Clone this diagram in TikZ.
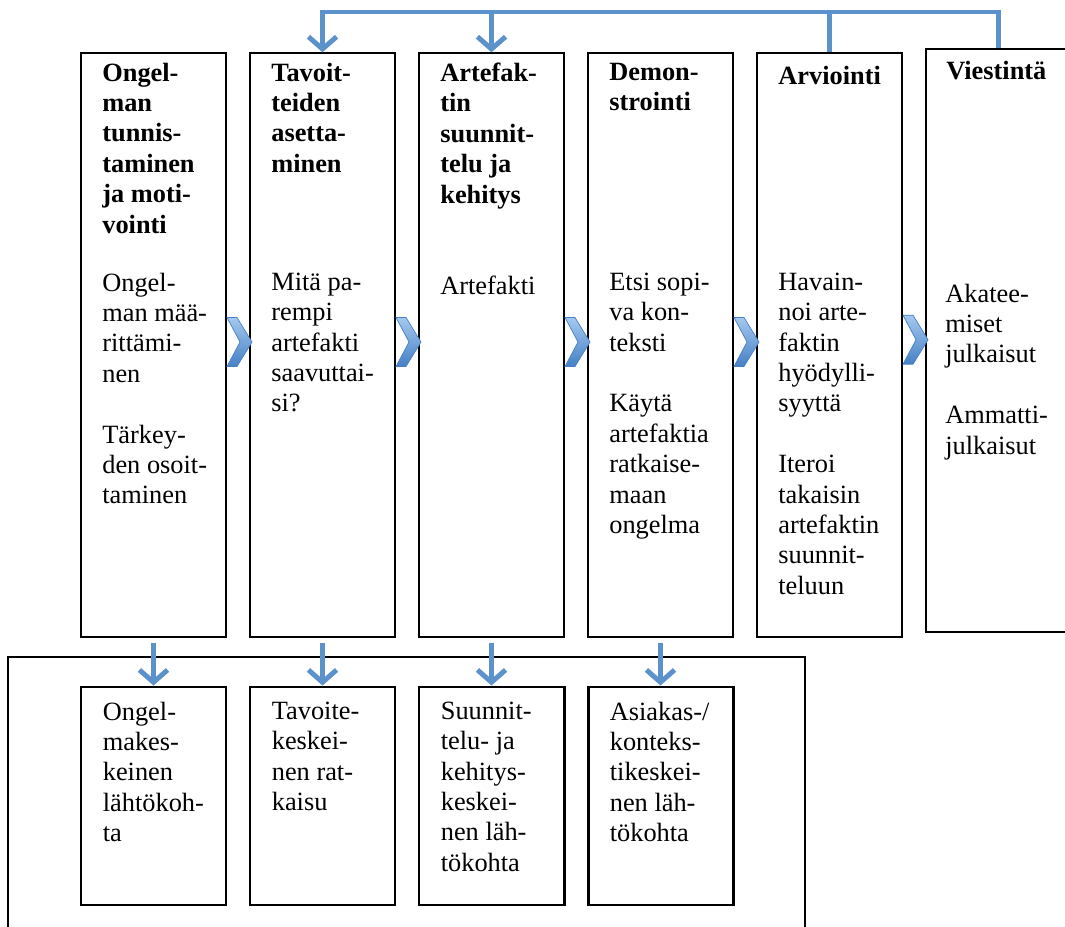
\documentclass[tikz,border=0pt]{standalone}
\usepackage{fontspec}
\setmainfont{Liberation Serif}
\usetikzlibrary{arrows.meta,calc}
\definecolor{viivasini}{RGB}{91,146,203}
\definecolor{kulmavaalea}{RGB}{165,200,238}
\definecolor{kulmatumma}{RGB}{70,128,198}

\begin{document}
\begin{tikzpicture}[
  vaihe/.style={draw, line width=0.8pt, minimum width=2.9cm, minimum height=11.68cm, inner sep=0pt},
  tulos/.style={draw, line width=1.7pt, minimum width=2.9cm, minimum height=4.36cm, inner sep=0pt},
  teksti/.style={anchor=north west, inner sep=0pt, align=left, font=\fontsize{15}{17.3}\selectfont, execute at begin node=\strut},
  otsikko/.style={teksti, font=\fontsize{15}{17.3}\selectfont\bfseries},
  nuoli/.style={draw=viivasini, line width=2.8pt, -{Straight Barb[length=7pt,width=16pt]}},
  palaute/.style={draw=viivasini, line width=2.8pt},
  kulma/.style={draw=kulmatumma, line width=0.4pt, top color=kulmavaalea, bottom color=kulmatumma}]
  \useasboundingbox (0,0) rectangle (21.3,-18.54);

  \node[vaihe] (v1) at (3.07,-6.90) {};
  \node[vaihe] (v2) at (6.45,-6.90) {};
  \node[vaihe] (v3) at (9.83,-6.90) {};
  \node[vaihe] (v4) at (13.21,-6.90) {};
  \node[vaihe] (v5) at (16.59,-6.90) {};
  \node[vaihe, minimum height=11.66cm] (v6) at (19.97,-6.81) {};

  \node[otsikko] (o1) at (2.04,-1.25) {Ongel-\\man\\tunnis-\\taminen\\ja moti-\\vointi};
  \node[otsikko] (o2) at (5.42,-1.25) {Tavoit-\\teiden\\asetta-\\minen};
  \node[otsikko] (o3) at (8.80,-1.25) {Artefak-\\tin\\suunnit-\\telu ja\\kehitys};
  \node[otsikko] (o4) at (12.18,-1.25) {Demon-\\strointi};
  \node[otsikko] (o5) at (15.56,-1.25) {Arviointi};
  \node[otsikko] (o6) at (18.92,-1.15) {Viestintä};

  \node[teksti] (s1) at (2.04,-5.45) {Ongel-\\man mää-\\rittämi-\\nen\\[17.3pt]Tärkey-\\den osoit-\\taminen};
  \node[teksti] (s2) at (5.42,-5.45) {Mitä pa-\\rempi\\artefakti\\saavuttai-\\si?};
  \node[teksti] (s3) at (8.80,-5.45) {Artefakti};
  \node[teksti] (s4) at (12.18,-5.45) {Etsi sopi-\\va kon-\\teksti\\[17.3pt]Käytä\\artefaktia\\ratkaise-\\maan\\ongelma};
  \node[teksti] (s5) at (15.56,-5.45) {Havain-\\noi arte-\\faktin\\hyödylli-\\syyttä\\[17.3pt]Iteroi\\takaisin\\artefaktin\\suunnit-\\teluun};
  \node[teksti] (s6) at (18.90,-5.67) {Akatee-\\miset\\julkaisut\\[17.3pt]Ammatti-\\julkaisut};

  \draw[line width=0.7pt] (0.16,-18.6) |- (16.1,-13.14) -- (16.1,-18.6);

  \node[tulos] (a1) at (3.07,-15.92) {};
  \node[tulos] (a2) at (6.45,-15.92) {};
  \node[tulos] (a3) at (9.83,-15.92) {};
  \node[tulos] (a4) at (13.21,-15.92) {};

  \node[teksti] (t1) at (2.05,-14.03) {Ongel-\\makes-\\keinen\\lähtökoh-\\ta};
  \node[teksti] (t2) at (5.43,-14.03) {Tavoite-\\keskei-\\nen rat-\\kaisu};
  \node[teksti] (t3) at (8.81,-14.03) {Suunnit-\\telu- ja\\kehitys-\\keskei-\\nen läh-\\tökohta};
  \node[teksti] (t4) at (12.19,-14.03) {Asiakas-/\\konteks-\\tikeskei-\\nen läh-\\tökohta};

  \foreach \a/\b in {v1/v2,v2/v3,v3/v4,v4/v5,v5/v6}
    \shadedraw[kulma] ($(\a.east)!0.5!(\b.west)+(0.03,0.06)$) ++(-0.25,0.49) -- ++(0.2,0) -- ++(0.3,-0.49) -- ++(-0.3,-0.49) -- ++(-0.2,0) -- ++(0.26,0.49) -- cycle;

  \coordinate (ylinja) at (0,-0.24);
  \draw[nuoli] (v6.north) -- (v6.north |- ylinja) -| (v2.north);
  \draw[palaute] (v5.north) -- (v5.north |- ylinja);
  \draw[nuoli] (v3.north |- ylinja) -- (v3.north);

  \draw[nuoli] ([yshift=-0.1cm]v1.south) -- (a1.north);
  \draw[nuoli] ([yshift=-0.1cm]v2.south) -- (a2.north);
  \draw[nuoli] ([yshift=-0.1cm]v3.south) -- (a3.north);
  \draw[nuoli] ([yshift=-0.1cm]v4.south) -- (a4.north);
\end{tikzpicture}
\end{document}
